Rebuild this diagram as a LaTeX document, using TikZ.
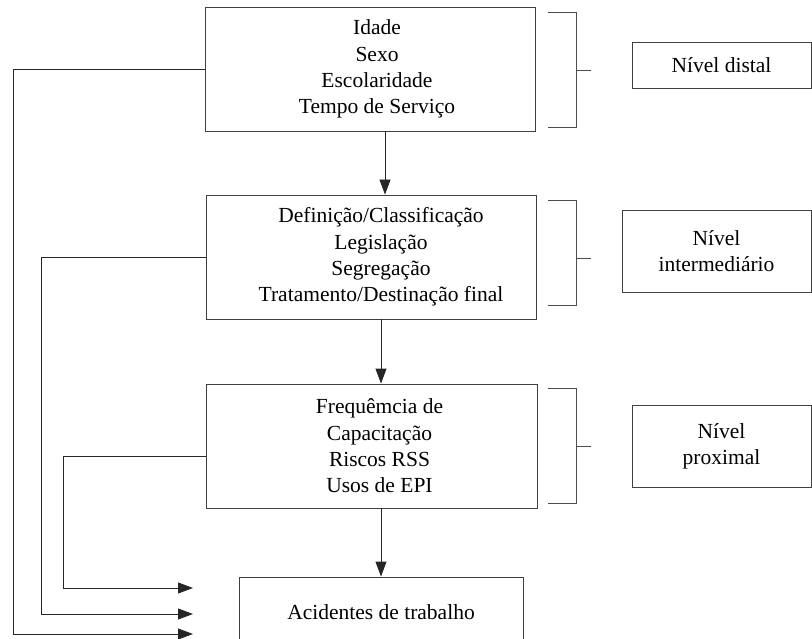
\documentclass[tikz,border=0pt]{standalone}
\usepackage{fontspec}
\setmainfont{LiberationSerif}[Extension=.ttf, UprightFont=*-Regular, BoldFont=*-Bold]
\usepackage{tikz}
\usetikzlibrary{arrows.meta,positioning}

\begin{document}
\begin{tikzpicture}[x=1pt, y=-1pt,
    caixa/.style={draw=black!75, line width=0.9pt, align=center, inner sep=0pt,
        font=\rmfamily\fontsize{21.5}{26.3}\selectfont},
    texto/.style={align=center, inner sep=0pt, font=\rmfamily\fontsize{21.5}{26.3}\selectfont},
    seta/.style={-{Triangle[length=15pt,width=11pt]}, line width=0.9pt, draw=black!85},
    chave/.style={line width=0.9pt, draw=black!70}]
    \useasboundingbox (0,0) rectangle (812,639);

    % blocos de determinantes
    \node[caixa, minimum width=330pt, minimum height=124pt] (distal) at (370,69) {};
    \node[caixa, minimum width=330pt, minimum height=124pt] (inter) at (371,257) {};
    \node[caixa, minimum width=331pt, minimum height=124pt] (prox) at (371.5,446) {};
    \node[caixa, minimum width=284pt, minimum height=70pt] (acid) at (381,612)
        {Acidentes de trabalho};

    % textos dos blocos
    \node[texto] (tdistal) at ([xshift=7pt]distal.center)
        {Idade\\Sexo\\Escolaridade\\Tempo de Serviço};
    \node[texto] (tinter) at ([xshift=10pt]inter.center)
        {Definição/Classificação\\Legislação\\Segregação\\Tratamento/Destinação final};
    \node[texto] (tprox) at ([xshift=8pt]prox.center)
        {Frequêmcia de\\Capacitação\\Riscos RSS\\Usos de EPI};

    % rótulos dos níveis
    \node[caixa, minimum width=179pt, minimum height=46pt] (ndistal) at (721.5,65) {Nível distal};
    \node[caixa, minimum width=189pt, minimum height=82pt] (ninter) at (716.5,251) {Nível\\intermediário};
    \node[caixa, minimum width=179pt, minimum height=82pt] (nprox) at (721.5,446) {Nível\\proximal};

    % chaves
    \draw[chave] (548,12) -- (576,12) -- (576,127) -- (548,127);
    \draw[chave] (576,70) -- (591,70);
    \draw[chave] (548,200) -- (576,200) -- (576,305) -- (548,305);
    \draw[chave] (576,258) -- (591,258);
    \draw[chave] (548,388) -- (576,388) -- (576,503) -- (548,503);
    \draw[chave] (576,446) -- (591,446);

    % setas verticais
    \draw[seta] ([xshift=15pt]distal.south) -- ([xshift=14pt]inter.north);
    \draw[seta] (inter.south -| acid.north) -- (prox.north -| acid.north);
    \draw[seta] (prox.south -| acid.north) -- (acid.north);

    % setas de retorno
    \coordinate (e1) at (193,634);
    \coordinate (e2) at (193,614);
    \coordinate (e3) at (193,588);
    \draw[seta] (distal.west) -| (13,634) -- (e1);
    \draw[seta] (inter.west) -| (41,614) -- (e2);
    \draw[seta] ([yshift=-10pt]prox.west) -| (63,588) -- (e3);
\end{tikzpicture}
\end{document}
